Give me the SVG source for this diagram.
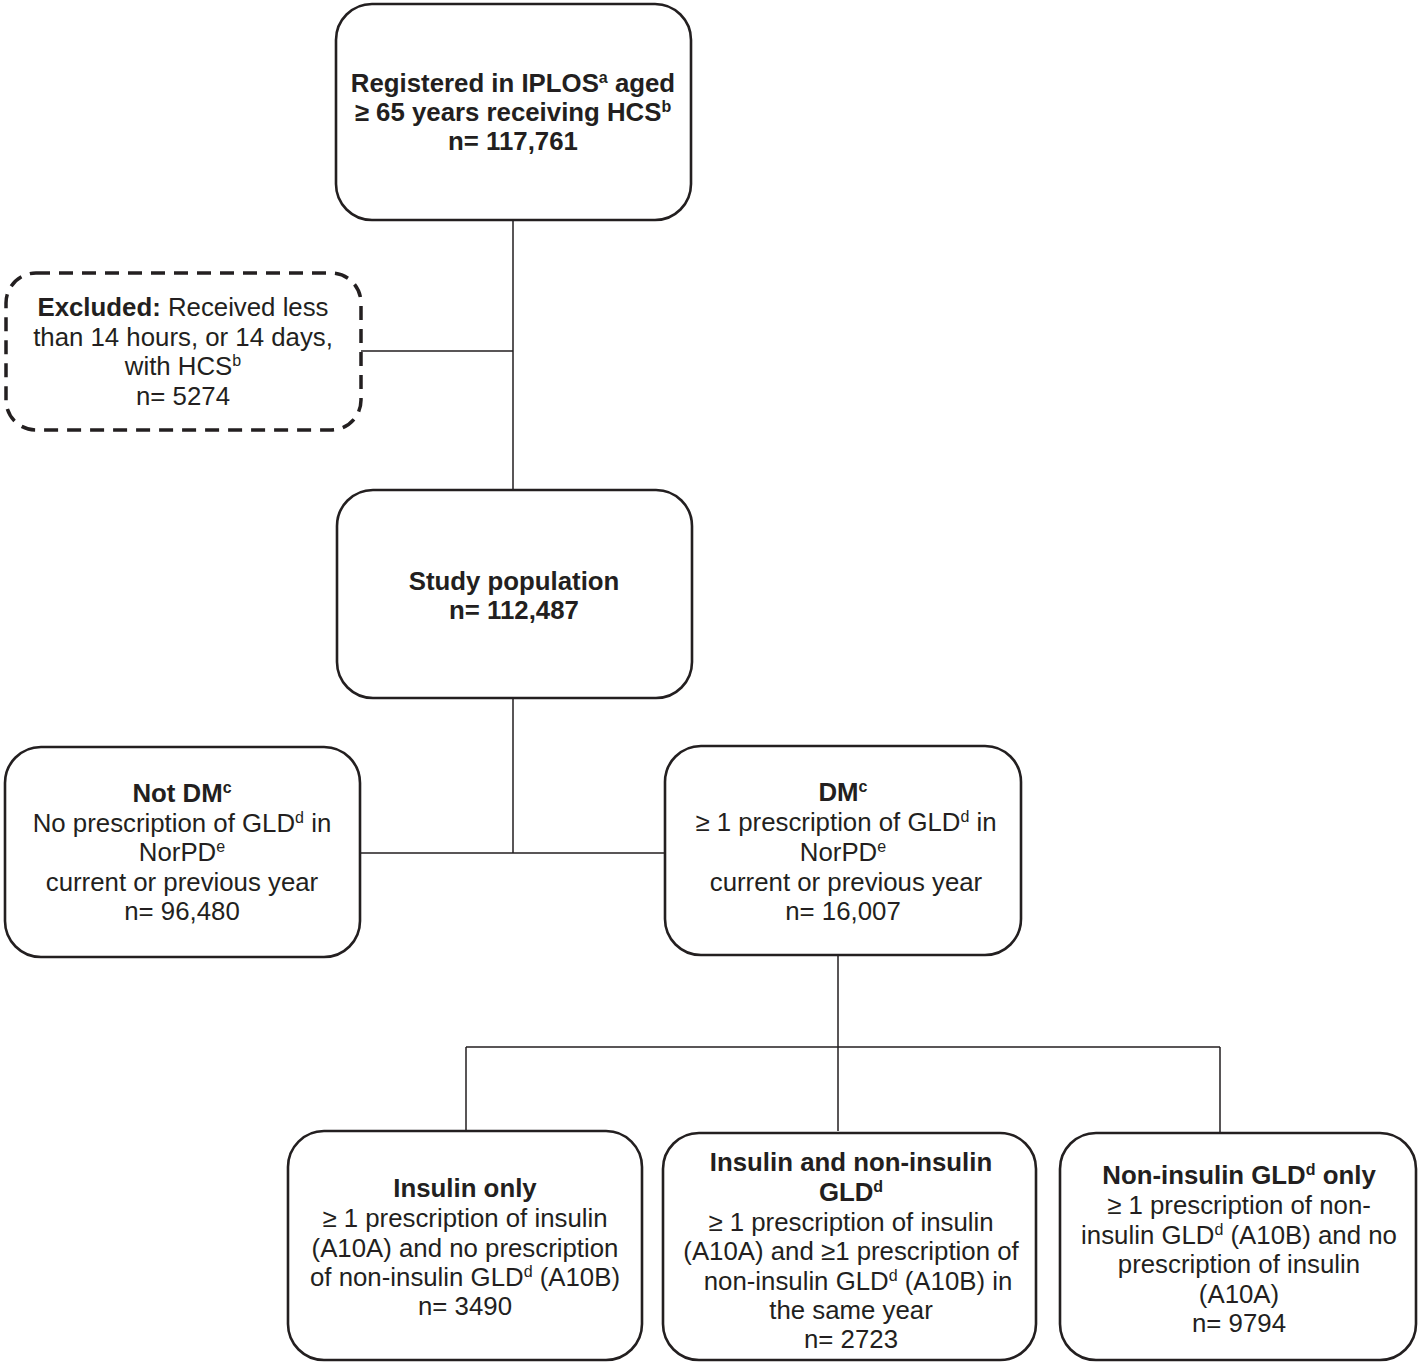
<svg xmlns="http://www.w3.org/2000/svg" width="1424" height="1363" viewBox="0 0 1424 1363">
<style>
.box{fill:#fff;stroke:#231f20;stroke-width:2.6}
.dash{fill:#fff;stroke:#231f20;stroke-width:3.5;stroke-dasharray:14 9}
.ln{stroke:#231f20;stroke-width:1.5;fill:none}
text{font-family:"Liberation Sans",Arial,sans-serif;font-size:25.8px;fill:#231f20;text-anchor:middle}
.b{font-weight:bold}
.s{font-size:16px}
</style>
<rect width="1424" height="1363" fill="#fff"/>
<g id="connectors">
<path class="ln" d="M513 220V490M361 351H513M513 698V853M360 853H665M838 955V1131M466 1047H1220M466 1047V1131M1220 1047V1133"/>
</g>
<g id="registered">
<rect class="box" x="336" y="4" width="355" height="216" rx="36"/>
<text class="b" x="513" y="92">Registered in IPLOS<tspan class="s" dy="-9">a</tspan><tspan dy="9"> aged</tspan></text>
<text class="b" x="513" y="121">≥ 65 years receiving HCS<tspan class="s" dy="-9">b</tspan></text>
<text class="b" x="513" y="150">n= 117,761</text>
</g>
<g id="excluded">
<rect class="dash" x="6" y="273" width="355" height="157" rx="30"/>
<text x="183" y="316"><tspan class="b">Excluded:</tspan> Received less</text>
<text x="183" y="346">than 14 hours, or 14 days,</text>
<text x="183" y="375">with HCS<tspan class="s" dy="-9">b</tspan></text>
<text x="183" y="405">n= 5274</text>
</g>
<g id="study">
<rect class="box" x="337" y="490" width="355" height="208" rx="36"/>
<text class="b" x="514" y="590">Study population</text>
<text class="b" x="514" y="619">n= 112,487</text>
</g>
<g id="notdm">
<rect class="box" x="5" y="747" width="355" height="210" rx="36"/>
<text class="b" x="182" y="802">Not DM<tspan class="s" dy="-9">c</tspan></text>
<text x="182" y="832">No prescription of GLD<tspan class="s" dy="-9">d</tspan><tspan dy="9"> in</tspan></text>
<text x="182" y="861">NorPD<tspan class="s" dy="-9">e</tspan></text>
<text x="182" y="891">current or previous year</text>
<text x="182" y="920">n= 96,480</text>
</g>
<g id="dm">
<rect class="box" x="665" y="746" width="356" height="209" rx="36"/>
<text class="b" x="843" y="801">DM<tspan class="s" dy="-9">c</tspan></text>
<text x="846" y="831">≥ 1 prescription of GLD<tspan class="s" dy="-9">d</tspan><tspan dy="9"> in</tspan></text>
<text x="843" y="861">NorPD<tspan class="s" dy="-9">e</tspan></text>
<text x="846" y="891">current or previous year</text>
<text x="843" y="920">n= 16,007</text>
</g>
<g id="insulin-only">
<rect class="box" x="288" y="1131" width="354" height="229" rx="36"/>
<text class="b" x="465" y="1197">Insulin only</text>
<text x="465" y="1227">≥ 1 prescription of insulin</text>
<text x="465" y="1257">(A10A) and no prescription</text>
<text x="465" y="1286">of non-insulin GLD<tspan class="s" dy="-9">d</tspan><tspan dy="9"> (A10B)</tspan></text>
<text x="465" y="1315">n= 3490</text>
</g>
<g id="insulin-and-non-insulin">
<rect class="box" x="663" y="1133" width="373" height="227" rx="36"/>
<text class="b" x="851" y="1171">Insulin and non-insulin</text>
<text class="b" x="851" y="1201">GLD<tspan class="s" dy="-9">d</tspan></text>
<text x="851" y="1231">≥ 1 prescription of insulin</text>
<text x="851" y="1260">(A10A) and ≥1 prescription of</text>
<text x="858" y="1290">non-insulin GLD<tspan class="s" dy="-9">d</tspan><tspan dy="9"> (A10B) in</tspan></text>
<text x="851" y="1319">the same year</text>
<text x="851" y="1348">n= 2723</text>
</g>
<g id="non-insulin-only">
<rect class="box" x="1060" y="1133" width="356" height="227" rx="36"/>
<text class="b" x="1239" y="1184">Non-insulin GLD<tspan class="s" dy="-9">d</tspan><tspan dy="9"> only</tspan></text>
<text x="1239" y="1214">≥ 1 prescription of non-</text>
<text x="1239" y="1244">insulin GLD<tspan class="s" dy="-9">d</tspan><tspan dy="9"> (A10B) and no</tspan></text>
<text x="1239" y="1273">prescription of insulin</text>
<text x="1239" y="1303">(A10A)</text>
<text x="1239" y="1332">n= 9794</text>
</g>
</svg>
